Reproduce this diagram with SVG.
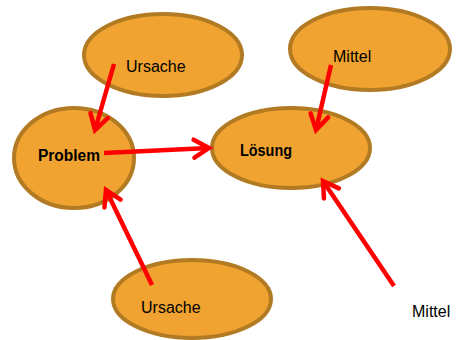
<svg xmlns="http://www.w3.org/2000/svg" width="457" height="340" viewBox="0 0 457 340">
<style>
.node ellipse{fill:#F0A330;stroke:#B27A22;stroke-width:4}
.t{font-family:"Liberation Sans",Arial,sans-serif;font-size:16px;fill:#000}
.b{font-weight:bold}
.edge{stroke:#FF0000;stroke-width:4.5;fill:none}
</style>
<defs>
<marker id="ah" markerUnits="userSpaceOnUse" markerWidth="30" markerHeight="30" viewBox="-20 -15 30 30" refX="0" refY="0" orient="auto" overflow="visible">
<path d="M-15,-9 L0,0 L-15,9" fill="none" stroke="#FF0000" stroke-width="4.5" stroke-linecap="round" stroke-linejoin="miter"/>
</marker>
</defs>
<g id="n-ursache1" class="node"><ellipse cx="163" cy="55" rx="79" ry="41"/><text class="t" x="126" y="72">Ursache</text></g>
<g id="n-mittel1" class="node"><ellipse cx="370" cy="49" rx="80" ry="41"/><text class="t" x="333" y="62">Mittel</text></g>
<g id="n-problem" class="node"><ellipse cx="74" cy="158" rx="60" ry="50"/><text class="t b" x="38" y="161" textLength="62" lengthAdjust="spacingAndGlyphs">Problem</text></g>
<g id="n-loesung" class="node"><ellipse cx="291" cy="148" rx="79" ry="40"/><text class="t b" x="240" y="156" textLength="52" lengthAdjust="spacingAndGlyphs">Lösung</text></g>
<g id="n-ursache2" class="node"><ellipse cx="192" cy="299" rx="79" ry="39"/><text class="t" x="141" y="313">Ursache</text></g>
<g id="n-mittel2"><text class="t" x="412" y="317">Mittel</text></g>
<g id="edges">
<line class="edge" x1="114" y1="64" x2="95" y2="130" marker-end="url(#ah)"/>
<line class="edge" x1="104" y1="153" x2="209" y2="148" marker-end="url(#ah)"/>
<line class="edge" x1="331" y1="65" x2="316" y2="130" marker-end="url(#ah)"/>
<line class="edge" x1="152" y1="285" x2="106" y2="190" marker-end="url(#ah)"/>
<line class="edge" x1="394" y1="286" x2="323" y2="181" marker-end="url(#ah)"/>
</g>
</svg>
